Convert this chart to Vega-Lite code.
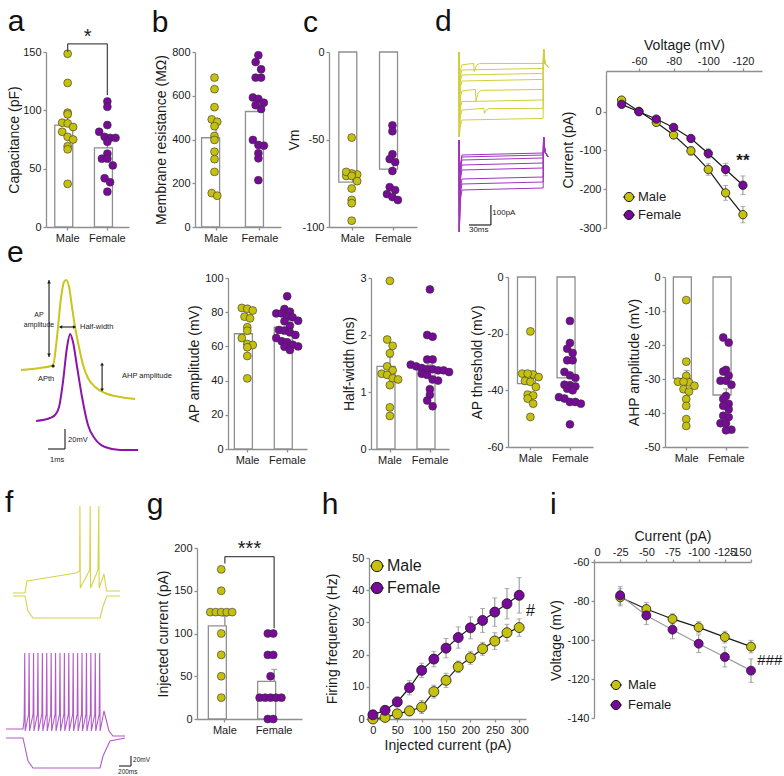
{
"$schema": "https://vega.github.io/schema/vega-lite/v6.json",
"background": "white",
"padding": {"left": 0, "top": 6, "right": 0, "bottom": 0},
"config": {
  "font": "Liberation Sans",
  "view": {"stroke": null},
  "axis": {"grid": false, "domainColor": "#8f8f8f", "domainWidth": 1.3, "tickColor": "#8f8f8f", "tickWidth": 1.3, "tickSize": 3, "labelFontSize": 11, "labelColor": "#1a1a1a", "labelPadding": 2, "labelOverlap": false, "labelExpr": "replace(datum.label, '−', '-')", "titleFontSize": 14, "titleFontWeight": "normal", "titleColor": "#1a1a1a", "titlePadding": 3},
  "title": {"fontSize": 30, "fontWeight": "normal", "anchor": "start", "color": "#111111"}
},
"datasets": {
  "summ": [
    {"panel": "cap", "sex": "Male", "m": 87.4, "sem": 7}, {"panel": "cap", "sex": "Female", "m": 67.8, "sem": 5},
    {"panel": "rin", "sex": "Male", "m": 408, "sem": 47}, {"panel": "rin", "sex": "Female", "m": 528, "sem": 42},
    {"panel": "vm", "sex": "Male", "m": -74.3, "sem": 3.5}, {"panel": "vm", "sex": "Female", "m": -66.9, "sem": 4},
    {"panel": "apamp", "sex": "Male", "m": 67.4, "sem": 3.8}, {"panel": "apamp", "sex": "Female", "m": 71.2, "sem": 2.2},
    {"panel": "hw", "sex": "Male", "m": 1.45, "sem": 0.16}, {"panel": "hw", "sex": "Female", "m": 1.39, "sem": 0.09},
    {"panel": "apth", "sex": "Male", "m": -37.6, "sem": 1.8}, {"panel": "apth", "sex": "Female", "m": -35.6, "sem": 1.6},
    {"panel": "ahp", "sex": "Male", "m": -29.8, "sem": 2.3}, {"panel": "ahp", "sex": "Female", "m": -34.7, "sem": 1.8},
    {"panel": "rheo", "sex": "Male", "m": 109, "sem": 11}, {"panel": "rheo", "sex": "Female", "m": 44, "sem": 14}
  ],
  "cap": [
    {"sex": "Male", "v": 148.5}, {"sex": "Male", "v": 123.5}, {"sex": "Male", "v": 98}, {"sex": "Male", "v": 96.6}, {"sex": "Male", "v": 89.4}, {"sex": "Male", "v": 88.8}, {"sex": "Male", "v": 85.7}, {"sex": "Male", "v": 81.6}, {"sex": "Male", "v": 77.3}, {"sex": "Male", "v": 75}, {"sex": "Male", "v": 69.2}, {"sex": "Male", "v": 66.6}, {"sex": "Male", "v": 37},
    {"sex": "Female", "v": 107.6}, {"sex": "Female", "v": 103}, {"sex": "Female", "v": 87.4}, {"sex": "Female", "v": 81.6}, {"sex": "Female", "v": 77.3}, {"sex": "Female", "v": 76.4}, {"sex": "Female", "v": 76.4}, {"sex": "Female", "v": 73}, {"sex": "Female", "v": 62.9}, {"sex": "Female", "v": 58.6}, {"sex": "Female", "v": 58.6}, {"sex": "Female", "v": 52.8}, {"sex": "Female", "v": 41.8}, {"sex": "Female", "v": 38.4}, {"sex": "Female", "v": 30.3}
  ],
  "rin": [
    {"sex": "Male", "v": 683}, {"sex": "Male", "v": 630}, {"sex": "Male", "v": 548}, {"sex": "Male", "v": 492}, {"sex": "Male", "v": 481}, {"sex": "Male", "v": 461}, {"sex": "Male", "v": 416}, {"sex": "Male", "v": 398}, {"sex": "Male", "v": 344}, {"sex": "Male", "v": 310}, {"sex": "Male", "v": 252}, {"sex": "Male", "v": 155}, {"sex": "Male", "v": 143},
    {"sex": "Female", "v": 785}, {"sex": "Female", "v": 754}, {"sex": "Female", "v": 721}, {"sex": "Female", "v": 683}, {"sex": "Female", "v": 683}, {"sex": "Female", "v": 592}, {"sex": "Female", "v": 586}, {"sex": "Female", "v": 568}, {"sex": "Female", "v": 557}, {"sex": "Female", "v": 539}, {"sex": "Female", "v": 398}, {"sex": "Female", "v": 375}, {"sex": "Female", "v": 372}, {"sex": "Female", "v": 337}, {"sex": "Female", "v": 314}, {"sex": "Female", "v": 214}
  ],
  "vm": [
    {"sex": "Male", "v": -48.9}, {"sex": "Male", "v": -70}, {"sex": "Male", "v": -70.8}, {"sex": "Male", "v": -69.4}, {"sex": "Male", "v": -68.5}, {"sex": "Male", "v": -70.8}, {"sex": "Male", "v": -73.8}, {"sex": "Male", "v": -78}, {"sex": "Male", "v": -84.5}, {"sex": "Male", "v": -86.4}, {"sex": "Male", "v": -96.4},
    {"sex": "Female", "v": -41.9}, {"sex": "Female", "v": -45.3}, {"sex": "Female", "v": -58.4}, {"sex": "Female", "v": -61.2}, {"sex": "Female", "v": -62.9}, {"sex": "Female", "v": -68}, {"sex": "Female", "v": -77.2}, {"sex": "Female", "v": -78.9}, {"sex": "Female", "v": -81.2}, {"sex": "Female", "v": -82.9}, {"sex": "Female", "v": -84.6}
  ],
  "apamp": [
    {"sex": "Male", "v": 82.5}, {"sex": "Male", "v": 82}, {"sex": "Male", "v": 81}, {"sex": "Male", "v": 77.4}, {"sex": "Male", "v": 76.4}, {"sex": "Male", "v": 71.2}, {"sex": "Male", "v": 69.2}, {"sex": "Male", "v": 64.9}, {"sex": "Male", "v": 61.4}, {"sex": "Male", "v": 60.8}, {"sex": "Male", "v": 59.5}, {"sex": "Male", "v": 54.4}, {"sex": "Male", "v": 41.3},
    {"sex": "Female", "v": 89.3}, {"sex": "Female", "v": 81.9}, {"sex": "Female", "v": 80.3}, {"sex": "Female", "v": 79.3}, {"sex": "Female", "v": 79.3}, {"sex": "Female", "v": 77.4}, {"sex": "Female", "v": 77}, {"sex": "Female", "v": 75}, {"sex": "Female", "v": 74.7}, {"sex": "Female", "v": 72.1}, {"sex": "Female", "v": 69.6}, {"sex": "Female", "v": 69.2}, {"sex": "Female", "v": 68.2}, {"sex": "Female", "v": 66.7}, {"sex": "Female", "v": 64.9}, {"sex": "Female", "v": 63}, {"sex": "Female", "v": 62.4}, {"sex": "Female", "v": 61}, {"sex": "Female", "v": 60}, {"sex": "Female", "v": 59.8}, {"sex": "Female", "v": 57.9}
  ],
  "hw": [
    {"sex": "Male", "v": 2.95}, {"sex": "Male", "v": 1.92}, {"sex": "Male", "v": 1.81}, {"sex": "Male", "v": 1.68}, {"sex": "Male", "v": 1.45}, {"sex": "Male", "v": 1.38}, {"sex": "Male", "v": 1.32}, {"sex": "Male", "v": 1.3}, {"sex": "Male", "v": 1.24}, {"sex": "Male", "v": 1.22}, {"sex": "Male", "v": 1.12}, {"sex": "Male", "v": 0.73}, {"sex": "Male", "v": 0.58},
    {"sex": "Female", "v": 2.8}, {"sex": "Female", "v": 2.0}, {"sex": "Female", "v": 1.97}, {"sex": "Female", "v": 1.57}, {"sex": "Female", "v": 1.57}, {"sex": "Female", "v": 1.48}, {"sex": "Female", "v": 1.45}, {"sex": "Female", "v": 1.42}, {"sex": "Female", "v": 1.4}, {"sex": "Female", "v": 1.4}, {"sex": "Female", "v": 1.38}, {"sex": "Female", "v": 1.38}, {"sex": "Female", "v": 1.35}, {"sex": "Female", "v": 1.32}, {"sex": "Female", "v": 1.3}, {"sex": "Female", "v": 1.22}, {"sex": "Female", "v": 1.2}, {"sex": "Female", "v": 1.05}, {"sex": "Female", "v": 0.95}, {"sex": "Female", "v": 0.85}, {"sex": "Female", "v": 0.75}
  ],
  "apth": [
    {"sex": "Male", "v": -19.2}, {"sex": "Male", "v": -34.4}, {"sex": "Male", "v": -34.1}, {"sex": "Male", "v": -34.1}, {"sex": "Male", "v": -35.3}, {"sex": "Male", "v": -36.7}, {"sex": "Male", "v": -37}, {"sex": "Male", "v": -38.8}, {"sex": "Male", "v": -41.5}, {"sex": "Male", "v": -41.8}, {"sex": "Male", "v": -42.9}, {"sex": "Male", "v": -44.7}, {"sex": "Male", "v": -49.4},
    {"sex": "Female", "v": -15.5}, {"sex": "Female", "v": -23.3}, {"sex": "Female", "v": -25.3}, {"sex": "Female", "v": -26.8}, {"sex": "Female", "v": -29.4}, {"sex": "Female", "v": -29.4}, {"sex": "Female", "v": -33.5}, {"sex": "Female", "v": -34.7}, {"sex": "Female", "v": -35.6}, {"sex": "Female", "v": -38.2}, {"sex": "Female", "v": -38}, {"sex": "Female", "v": -38.6}, {"sex": "Female", "v": -39.4}, {"sex": "Female", "v": -40}, {"sex": "Female", "v": -42.4}, {"sex": "Female", "v": -42.9}, {"sex": "Female", "v": -44.1}, {"sex": "Female", "v": -44.1}, {"sex": "Female", "v": -44.7}, {"sex": "Female", "v": -52}
  ],
  "ahp": [
    {"sex": "Male", "v": -6.8}, {"sex": "Male", "v": -24.9}, {"sex": "Male", "v": -29.1}, {"sex": "Male", "v": -30.8}, {"sex": "Male", "v": -31}, {"sex": "Male", "v": -30.8}, {"sex": "Male", "v": -32}, {"sex": "Male", "v": -33}, {"sex": "Male", "v": -33.7}, {"sex": "Male", "v": -35.9}, {"sex": "Male", "v": -37.9}, {"sex": "Male", "v": -41.8}, {"sex": "Male", "v": -43.8},
    {"sex": "Female", "v": -17.8}, {"sex": "Female", "v": -19.3}, {"sex": "Female", "v": -27.8}, {"sex": "Female", "v": -27.3}, {"sex": "Female", "v": -29}, {"sex": "Female", "v": -30.5}, {"sex": "Female", "v": -30.5}, {"sex": "Female", "v": -31.7}, {"sex": "Female", "v": -35}, {"sex": "Female", "v": -35.9}, {"sex": "Female", "v": -37.3}, {"sex": "Female", "v": -37.9}, {"sex": "Female", "v": -38.9}, {"sex": "Female", "v": -40.8}, {"sex": "Female", "v": -41.2}, {"sex": "Female", "v": -43}, {"sex": "Female", "v": -43}, {"sex": "Female", "v": -44.9}, {"sex": "Female", "v": -45.1}
  ],
  "rheo": [
    {"sex": "Male", "v": 175}, {"sex": "Male", "v": 150}, {"sex": "Male", "v": 125}, {"sex": "Male", "v": 125}, {"sex": "Male", "v": 125}, {"sex": "Male", "v": 125}, {"sex": "Male", "v": 125}, {"sex": "Male", "v": 100}, {"sex": "Male", "v": 75}, {"sex": "Male", "v": 50}, {"sex": "Male", "v": 25},
    {"sex": "Female", "v": 100}, {"sex": "Female", "v": 100}, {"sex": "Female", "v": 75}, {"sex": "Female", "v": 75}, {"sex": "Female", "v": 50}, {"sex": "Female", "v": 25}, {"sex": "Female", "v": 25}, {"sex": "Female", "v": 25}, {"sex": "Female", "v": 25}, {"sex": "Female", "v": 25}, {"sex": "Female", "v": 0}, {"sex": "Female", "v": 0}
  ],
  "iv": [
    {"sex": "Male", "mV": -50, "pA": 30, "sem": 5}, {"sex": "Male", "mV": -60, "pA": 1, "sem": 3}, {"sex": "Male", "mV": -70, "pA": -27.6, "sem": 5}, {"sex": "Male", "mV": -80, "pA": -60, "sem": 6}, {"sex": "Male", "mV": -90, "pA": -101, "sem": 10.8}, {"sex": "Male", "mV": -100, "pA": -149, "sem": 15}, {"sex": "Male", "mV": -110, "pA": -209.5, "sem": 19}, {"sex": "Male", "mV": -120, "pA": -265.5, "sem": 21},
    {"sex": "Female", "mV": -50, "pA": 19, "sem": 3}, {"sex": "Female", "mV": -60, "pA": 0, "sem": 3}, {"sex": "Female", "mV": -70, "pA": -19, "sem": 4}, {"sex": "Female", "mV": -80, "pA": -40.5, "sem": 5}, {"sex": "Female", "mV": -90, "pA": -69, "sem": 7}, {"sex": "Female", "mV": -100, "pA": -107.8, "sem": 12}, {"sex": "Female", "mV": -110, "pA": -149, "sem": 16}, {"sex": "Female", "mV": -120, "pA": -189.7, "sem": 24}
  ],
  "fi": [
    {"sex": "Male", "pA": 0, "hz": 0, "sem": 0.3}, {"sex": "Male", "pA": 25, "hz": 0.5, "sem": 0.5}, {"sex": "Male", "pA": 50, "hz": 1.6, "sem": 1.2}, {"sex": "Male", "pA": 75, "hz": 2.5, "sem": 1.5}, {"sex": "Male", "pA": 100, "hz": 3.7, "sem": 2}, {"sex": "Male", "pA": 125, "hz": 8.5, "sem": 2}, {"sex": "Male", "pA": 150, "hz": 12, "sem": 2.2}, {"sex": "Male", "pA": 175, "hz": 16.2, "sem": 1.8}, {"sex": "Male", "pA": 200, "hz": 19, "sem": 2}, {"sex": "Male", "pA": 225, "hz": 21.8, "sem": 2}, {"sex": "Male", "pA": 250, "hz": 24.2, "sem": 2.6}, {"sex": "Male", "pA": 275, "hz": 26.8, "sem": 2.6}, {"sex": "Male", "pA": 300, "hz": 28.4, "sem": 2.7},
    {"sex": "Female", "pA": 0, "hz": 1.3, "sem": 0.5}, {"sex": "Female", "pA": 25, "hz": 2.7, "sem": 1}, {"sex": "Female", "pA": 50, "hz": 5.3, "sem": 1.5}, {"sex": "Female", "pA": 75, "hz": 9.7, "sem": 2.2}, {"sex": "Female", "pA": 100, "hz": 15.1, "sem": 2.2}, {"sex": "Female", "pA": 125, "hz": 18.6, "sem": 2.4}, {"sex": "Female", "pA": 150, "hz": 22, "sem": 3}, {"sex": "Female", "pA": 175, "hz": 25.3, "sem": 3.3}, {"sex": "Female", "pA": 200, "hz": 28.3, "sem": 3.4}, {"sex": "Female", "pA": 225, "hz": 30.6, "sem": 3.7}, {"sex": "Female", "pA": 250, "hz": 33.2, "sem": 4.4}, {"sex": "Female", "pA": 275, "hz": 35.8, "sem": 4.7}, {"sex": "Female", "pA": 300, "hz": 38.4, "sem": 5.5}
  ],
  "vi": [
    {"sex": "Male", "pA": -25, "mV": -78.1, "sem": 4.4}, {"sex": "Male", "pA": -50, "mV": -84.1, "sem": 3.3}, {"sex": "Male", "pA": -75, "mV": -89.2, "sem": 2.6}, {"sex": "Male", "pA": -100, "mV": -93.5, "sem": 2.9}, {"sex": "Male", "pA": -125, "mV": -98.5, "sem": 3}, {"sex": "Male", "pA": -150, "mV": -103.4, "sem": 3.2},
    {"sex": "Female", "pA": -25, "mV": -77.1, "sem": 4.5}, {"sex": "Female", "pA": -50, "mV": -87.4, "sem": 4.7}, {"sex": "Female", "pA": -75, "mV": -94.7, "sem": 4.7}, {"sex": "Female", "pA": -100, "mV": -101.9, "sem": 4.5}, {"sex": "Female", "pA": -125, "mV": -108.7, "sem": 5.1}, {"sex": "Female", "pA": -150, "mV": -115.7, "sem": 6}
  ],
  "dtr": [
    {"sex": "Male", "tr": "m1", "t": 0, "I": 0}, {"sex": "Male", "tr": "m1", "t": 0.5, "I": -425}, {"sex": "Male", "tr": "m1", "t": 1.5, "I": -100}, {"sex": "Male", "tr": "m1", "t": 4, "I": -64}, {"sex": "Male", "tr": "m1", "t": 20, "I": -57}, {"sex": "Male", "tr": "m1", "t": 20.9, "I": -98}, {"sex": "Male", "tr": "m1", "t": 24, "I": -65}, {"sex": "Male", "tr": "m1", "t": 28, "I": -58}, {"sex": "Male", "tr": "m1", "t": 115, "I": -57}, {"sex": "Male", "tr": "m1", "t": 115.6, "I": 15}, {"sex": "Male", "tr": "m1", "t": 117.5, "I": -60}, {"sex": "Male", "tr": "m1", "t": 122, "I": -75},
    {"sex": "Male", "tr": "m2", "t": 0, "I": 0}, {"sex": "Male", "tr": "m2", "t": 0.5, "I": -425}, {"sex": "Male", "tr": "m2", "t": 1.5, "I": -127}, {"sex": "Male", "tr": "m2", "t": 4, "I": -90}, {"sex": "Male", "tr": "m2", "t": 115, "I": -82}, {"sex": "Male", "tr": "m2", "t": 115.6, "I": 15}, {"sex": "Male", "tr": "m2", "t": 117.5, "I": -60}, {"sex": "Male", "tr": "m2", "t": 122, "I": -75},
    {"sex": "Male", "tr": "m3", "t": 0, "I": 0}, {"sex": "Male", "tr": "m3", "t": 0.5, "I": -425}, {"sex": "Male", "tr": "m3", "t": 1.5, "I": -152}, {"sex": "Male", "tr": "m3", "t": 4, "I": -115}, {"sex": "Male", "tr": "m3", "t": 115, "I": -107}, {"sex": "Male", "tr": "m3", "t": 115.6, "I": 15}, {"sex": "Male", "tr": "m3", "t": 117.5, "I": -60}, {"sex": "Male", "tr": "m3", "t": 122, "I": -75},
    {"sex": "Male", "tr": "m4", "t": 0, "I": 0}, {"sex": "Male", "tr": "m4", "t": 0.5, "I": -425}, {"sex": "Male", "tr": "m4", "t": 1.5, "I": -182}, {"sex": "Male", "tr": "m4", "t": 4, "I": -145}, {"sex": "Male", "tr": "m4", "t": 115, "I": -137}, {"sex": "Male", "tr": "m4", "t": 115.6, "I": 15}, {"sex": "Male", "tr": "m4", "t": 117.5, "I": -60}, {"sex": "Male", "tr": "m4", "t": 122, "I": -75},
    {"sex": "Male", "tr": "m5", "t": 0, "I": 0}, {"sex": "Male", "tr": "m5", "t": 0.5, "I": -425}, {"sex": "Male", "tr": "m5", "t": 1.5, "I": -232}, {"sex": "Male", "tr": "m5", "t": 4, "I": -195}, {"sex": "Male", "tr": "m5", "t": 22.5, "I": -187}, {"sex": "Male", "tr": "m5", "t": 23.2, "I": -248}, {"sex": "Male", "tr": "m5", "t": 26, "I": -205}, {"sex": "Male", "tr": "m5", "t": 30, "I": -192}, {"sex": "Male", "tr": "m5", "t": 115, "I": -187}, {"sex": "Male", "tr": "m5", "t": 115.6, "I": 15}, {"sex": "Male", "tr": "m5", "t": 117.5, "I": -60}, {"sex": "Male", "tr": "m5", "t": 122, "I": -75},
    {"sex": "Male", "tr": "m6", "t": 0, "I": 0}, {"sex": "Male", "tr": "m6", "t": 0.5, "I": -425}, {"sex": "Male", "tr": "m6", "t": 1.5, "I": -285}, {"sex": "Male", "tr": "m6", "t": 4, "I": -248}, {"sex": "Male", "tr": "m6", "t": 115, "I": -240}, {"sex": "Male", "tr": "m6", "t": 115.6, "I": 15}, {"sex": "Male", "tr": "m6", "t": 117.5, "I": -60}, {"sex": "Male", "tr": "m6", "t": 122, "I": -75},
    {"sex": "Male", "tr": "m7", "t": 0, "I": 0}, {"sex": "Male", "tr": "m7", "t": 0.5, "I": -425}, {"sex": "Male", "tr": "m7", "t": 1.5, "I": -327}, {"sex": "Male", "tr": "m7", "t": 4, "I": -290}, {"sex": "Male", "tr": "m7", "t": 34, "I": -282}, {"sex": "Male", "tr": "m7", "t": 34.5, "I": -307}, {"sex": "Male", "tr": "m7", "t": 37, "I": -290}, {"sex": "Male", "tr": "m7", "t": 41, "I": -283}, {"sex": "Male", "tr": "m7", "t": 115, "I": -282}, {"sex": "Male", "tr": "m7", "t": 115.6, "I": 15}, {"sex": "Male", "tr": "m7", "t": 117.5, "I": -60}, {"sex": "Male", "tr": "m7", "t": 122, "I": -75},
    {"sex": "Male", "tr": "m8", "t": 0, "I": 0}, {"sex": "Male", "tr": "m8", "t": 0.5, "I": -425}, {"sex": "Male", "tr": "m8", "t": 1.5, "I": -377}, {"sex": "Male", "tr": "m8", "t": 4, "I": -340}, {"sex": "Male", "tr": "m8", "t": 115, "I": -332}, {"sex": "Male", "tr": "m8", "t": 115.6, "I": 15}, {"sex": "Male", "tr": "m8", "t": 117.5, "I": -60}, {"sex": "Male", "tr": "m8", "t": 122, "I": -75},
    {"sex": "Female", "tr": "f1", "t": 0, "I": -440}, {"sex": "Female", "tr": "f1", "t": 0.5, "I": -900}, {"sex": "Female", "tr": "f1", "t": 1.5, "I": -575}, {"sex": "Female", "tr": "f1", "t": 4, "I": -515}, {"sex": "Female", "tr": "f1", "t": 115, "I": -505}, {"sex": "Female", "tr": "f1", "t": 115.6, "I": -425}, {"sex": "Female", "tr": "f1", "t": 117.5, "I": -500}, {"sex": "Female", "tr": "f1", "t": 122, "I": -525},
    {"sex": "Female", "tr": "f2", "t": 0, "I": -440}, {"sex": "Female", "tr": "f2", "t": 0.5, "I": -900}, {"sex": "Female", "tr": "f2", "t": 1.5, "I": -585}, {"sex": "Female", "tr": "f2", "t": 4, "I": -525}, {"sex": "Female", "tr": "f2", "t": 115, "I": -515}, {"sex": "Female", "tr": "f2", "t": 115.6, "I": -425}, {"sex": "Female", "tr": "f2", "t": 117.5, "I": -500}, {"sex": "Female", "tr": "f2", "t": 122, "I": -525},
    {"sex": "Female", "tr": "f3", "t": 0, "I": -440}, {"sex": "Female", "tr": "f3", "t": 0.5, "I": -900}, {"sex": "Female", "tr": "f3", "t": 1.5, "I": -600}, {"sex": "Female", "tr": "f3", "t": 4, "I": -540}, {"sex": "Female", "tr": "f3", "t": 115, "I": -530}, {"sex": "Female", "tr": "f3", "t": 115.6, "I": -425}, {"sex": "Female", "tr": "f3", "t": 117.5, "I": -500}, {"sex": "Female", "tr": "f3", "t": 122, "I": -525},
    {"sex": "Female", "tr": "f4", "t": 0, "I": -440}, {"sex": "Female", "tr": "f4", "t": 0.5, "I": -900}, {"sex": "Female", "tr": "f4", "t": 1.5, "I": -625}, {"sex": "Female", "tr": "f4", "t": 4, "I": -565}, {"sex": "Female", "tr": "f4", "t": 115, "I": -555}, {"sex": "Female", "tr": "f4", "t": 115.6, "I": -425}, {"sex": "Female", "tr": "f4", "t": 117.5, "I": -500}, {"sex": "Female", "tr": "f4", "t": 122, "I": -525},
    {"sex": "Female", "tr": "f5", "t": 0, "I": -440}, {"sex": "Female", "tr": "f5", "t": 0.5, "I": -900}, {"sex": "Female", "tr": "f5", "t": 1.5, "I": -650}, {"sex": "Female", "tr": "f5", "t": 4, "I": -590}, {"sex": "Female", "tr": "f5", "t": 115, "I": -580}, {"sex": "Female", "tr": "f5", "t": 115.6, "I": -425}, {"sex": "Female", "tr": "f5", "t": 117.5, "I": -500}, {"sex": "Female", "tr": "f5", "t": 122, "I": -525},
    {"sex": "Female", "tr": "f6", "t": 0, "I": -440}, {"sex": "Female", "tr": "f6", "t": 0.5, "I": -900}, {"sex": "Female", "tr": "f6", "t": 1.5, "I": -695}, {"sex": "Female", "tr": "f6", "t": 4, "I": -635}, {"sex": "Female", "tr": "f6", "t": 115, "I": -625}, {"sex": "Female", "tr": "f6", "t": 115.6, "I": -425}, {"sex": "Female", "tr": "f6", "t": 117.5, "I": -500}, {"sex": "Female", "tr": "f6", "t": 122, "I": -525},
    {"sex": "Female", "tr": "f7", "t": 0, "I": -440}, {"sex": "Female", "tr": "f7", "t": 0.5, "I": -900}, {"sex": "Female", "tr": "f7", "t": 1.5, "I": -720}, {"sex": "Female", "tr": "f7", "t": 4, "I": -660}, {"sex": "Female", "tr": "f7", "t": 115, "I": -650}, {"sex": "Female", "tr": "f7", "t": 115.6, "I": -425}, {"sex": "Female", "tr": "f7", "t": 117.5, "I": -500}, {"sex": "Female", "tr": "f7", "t": 122, "I": -525},
    {"sex": "Female", "tr": "f8", "t": 0, "I": -440}, {"sex": "Female", "tr": "f8", "t": 0.5, "I": -900}, {"sex": "Female", "tr": "f8", "t": 1.5, "I": -750}, {"sex": "Female", "tr": "f8", "t": 4, "I": -690}, {"sex": "Female", "tr": "f8", "t": 115, "I": -680}, {"sex": "Female", "tr": "f8", "t": 115.6, "I": -425}, {"sex": "Female", "tr": "f8", "t": 117.5, "I": -500}, {"sex": "Female", "tr": "f8", "t": 122, "I": -525}
  ],
  "etr": [
    {"sex": "Male", "t": 0.35, "V": -60}, {"sex": "Male", "t": 1.47, "V": -58}, {"sex": "Male", "t": 2.12, "V": -56}, {"sex": "Male", "t": 2.24, "V": -55}, {"sex": "Male", "t": 2.47, "V": -27}, {"sex": "Male", "t": 2.71, "V": 13}, {"sex": "Male", "t": 2.88, "V": 28}, {"sex": "Male", "t": 3.0, "V": 30}, {"sex": "Male", "t": 3.18, "V": 23}, {"sex": "Male", "t": 3.35, "V": 3}, {"sex": "Male", "t": 3.53, "V": -17}, {"sex": "Male", "t": 3.76, "V": -37}, {"sex": "Male", "t": 4.0, "V": -55}, {"sex": "Male", "t": 4.29, "V": -68}, {"sex": "Male", "t": 4.71, "V": -77}, {"sex": "Male", "t": 5.29, "V": -83}, {"sex": "Male", "t": 6.18, "V": -87}, {"sex": "Male", "t": 7.06, "V": -89},
    {"sex": "Female", "t": 1.24, "V": -111}, {"sex": "Female", "t": 2.06, "V": -108}, {"sex": "Female", "t": 2.35, "V": -105}, {"sex": "Female", "t": 2.59, "V": -97}, {"sex": "Female", "t": 2.82, "V": -72}, {"sex": "Female", "t": 3.06, "V": -37}, {"sex": "Female", "t": 3.24, "V": -24}, {"sex": "Female", "t": 3.41, "V": -32}, {"sex": "Female", "t": 3.65, "V": -57}, {"sex": "Female", "t": 3.94, "V": -87}, {"sex": "Female", "t": 4.29, "V": -115}, {"sex": "Female", "t": 4.71, "V": -129}, {"sex": "Female", "t": 5.29, "V": -137}, {"sex": "Female", "t": 6.18, "V": -140}, {"sex": "Female", "t": 7.24, "V": -140}
  ],
  "ftr": [
    {"sex": "Male", "tr": "m1", "t": 167, "V": -70}, {"sex": "Male", "tr": "m1", "t": 367, "V": -70}, {"sex": "Male", "tr": "m1", "t": 400, "V": -46}, {"sex": "Male", "tr": "m1", "t": 500, "V": -44}, {"sex": "Male", "tr": "m1", "t": 1217, "V": -30}, {"sex": "Male", "tr": "m1", "t": 1278, "V": -26}, {"sex": "Male", "tr": "m1", "t": 1282, "V": 104}, {"sex": "Male", "tr": "m1", "t": 1288, "V": -60}, {"sex": "Male", "tr": "m1", "t": 1445, "V": -24}, {"sex": "Male", "tr": "m1", "t": 1453, "V": 104}, {"sex": "Male", "tr": "m1", "t": 1460, "V": -60}, {"sex": "Male", "tr": "m1", "t": 1583, "V": -24}, {"sex": "Male", "tr": "m1", "t": 1597, "V": 104}, {"sex": "Male", "tr": "m1", "t": 1603, "V": -60}, {"sex": "Male", "tr": "m1", "t": 1683, "V": -32}, {"sex": "Male", "tr": "m1", "t": 1725, "V": -66}, {"sex": "Male", "tr": "m1", "t": 1950, "V": -66},
    {"sex": "Male", "tr": "m2", "t": 167, "V": -76}, {"sex": "Male", "tr": "m2", "t": 367, "V": -76}, {"sex": "Male", "tr": "m2", "t": 417, "V": -106}, {"sex": "Male", "tr": "m2", "t": 500, "V": -120}, {"sex": "Male", "tr": "m2", "t": 1617, "V": -120}, {"sex": "Male", "tr": "m2", "t": 1667, "V": -96}, {"sex": "Male", "tr": "m2", "t": 1733, "V": -76}, {"sex": "Male", "tr": "m2", "t": 1950, "V": -76},
    {"sex": "Female", "tr": "f1", "t": 50, "V": -342}, {"sex": "Female", "tr": "f1", "t": 333, "V": -342}, {"sex": "Female", "tr": "f1", "t": 350, "V": -326},
    {"sex": "Female", "tr": "f1", "t": 354, "V": -312}, {"sex": "Female", "tr": "f1", "t": 362, "V": -190}, {"sex": "Female", "tr": "f1", "t": 370, "V": -346},
    {"sex": "Female", "tr": "f1", "t": 427, "V": -312}, {"sex": "Female", "tr": "f1", "t": 435, "V": -190}, {"sex": "Female", "tr": "f1", "t": 443, "V": -346},
    {"sex": "Female", "tr": "f1", "t": 501, "V": -312}, {"sex": "Female", "tr": "f1", "t": 509, "V": -190}, {"sex": "Female", "tr": "f1", "t": 517, "V": -346},
    {"sex": "Female", "tr": "f1", "t": 574, "V": -312}, {"sex": "Female", "tr": "f1", "t": 582, "V": -190}, {"sex": "Female", "tr": "f1", "t": 590, "V": -346},
    {"sex": "Female", "tr": "f1", "t": 648, "V": -312}, {"sex": "Female", "tr": "f1", "t": 656, "V": -190}, {"sex": "Female", "tr": "f1", "t": 664, "V": -346},
    {"sex": "Female", "tr": "f1", "t": 721, "V": -312}, {"sex": "Female", "tr": "f1", "t": 729, "V": -190}, {"sex": "Female", "tr": "f1", "t": 737, "V": -346},
    {"sex": "Female", "tr": "f1", "t": 795, "V": -312}, {"sex": "Female", "tr": "f1", "t": 803, "V": -190}, {"sex": "Female", "tr": "f1", "t": 811, "V": -346},
    {"sex": "Female", "tr": "f1", "t": 868, "V": -312}, {"sex": "Female", "tr": "f1", "t": 876, "V": -190}, {"sex": "Female", "tr": "f1", "t": 884, "V": -346},
    {"sex": "Female", "tr": "f1", "t": 942, "V": -312}, {"sex": "Female", "tr": "f1", "t": 950, "V": -190}, {"sex": "Female", "tr": "f1", "t": 958, "V": -346},
    {"sex": "Female", "tr": "f1", "t": 1015, "V": -312}, {"sex": "Female", "tr": "f1", "t": 1023, "V": -190}, {"sex": "Female", "tr": "f1", "t": 1031, "V": -346},
    {"sex": "Female", "tr": "f1", "t": 1089, "V": -312}, {"sex": "Female", "tr": "f1", "t": 1097, "V": -190}, {"sex": "Female", "tr": "f1", "t": 1105, "V": -346},
    {"sex": "Female", "tr": "f1", "t": 1162, "V": -312}, {"sex": "Female", "tr": "f1", "t": 1170, "V": -190}, {"sex": "Female", "tr": "f1", "t": 1178, "V": -346},
    {"sex": "Female", "tr": "f1", "t": 1236, "V": -312}, {"sex": "Female", "tr": "f1", "t": 1244, "V": -190}, {"sex": "Female", "tr": "f1", "t": 1252, "V": -346},
    {"sex": "Female", "tr": "f1", "t": 1309, "V": -312}, {"sex": "Female", "tr": "f1", "t": 1317, "V": -190}, {"sex": "Female", "tr": "f1", "t": 1325, "V": -346},
    {"sex": "Female", "tr": "f1", "t": 1383, "V": -312}, {"sex": "Female", "tr": "f1", "t": 1391, "V": -190}, {"sex": "Female", "tr": "f1", "t": 1399, "V": -346},
    {"sex": "Female", "tr": "f1", "t": 1456, "V": -312}, {"sex": "Female", "tr": "f1", "t": 1464, "V": -190}, {"sex": "Female", "tr": "f1", "t": 1472, "V": -346},
    {"sex": "Female", "tr": "f1", "t": 1530, "V": -312}, {"sex": "Female", "tr": "f1", "t": 1538, "V": -190}, {"sex": "Female", "tr": "f1", "t": 1546, "V": -346},
    {"sex": "Female", "tr": "f1", "t": 1603, "V": -312}, {"sex": "Female", "tr": "f1", "t": 1611, "V": -190}, {"sex": "Female", "tr": "f1", "t": 1619, "V": -346},
    {"sex": "Female", "tr": "f1", "t": 1683, "V": -306}, {"sex": "Female", "tr": "f1", "t": 1767, "V": -346}, {"sex": "Female", "tr": "f1", "t": 1833, "V": -356}, {"sex": "Female", "tr": "f1", "t": 2033, "V": -356},
    {"sex": "Female", "tr": "f2", "t": 50, "V": -360}, {"sex": "Female", "tr": "f2", "t": 333, "V": -360}, {"sex": "Female", "tr": "f2", "t": 417, "V": -406}, {"sex": "Female", "tr": "f2", "t": 500, "V": -420}, {"sex": "Female", "tr": "f2", "t": 1617, "V": -420}, {"sex": "Female", "tr": "f2", "t": 1667, "V": -396}, {"sex": "Female", "tr": "f2", "t": 1783, "V": -366}, {"sex": "Female", "tr": "f2", "t": 2033, "V": -360}
  ]
},
"vconcat": [
  {"hconcat": [
    {"width": 1, "height": 1, "data": {"values": [{"k": 0}]}, "mark": {"type": "point", "opacity": 0}, "encoding": {}},
    {"title": {"text": "a", "offset": -10}, "width": 83, "height": 177, "layer": [
      {"data": {"name": "summ"}, "transform": [{"filter": "datum.panel === 'cap'"}], "mark": {"type": "bar", "fill": "white", "stroke": "#8f8f8f", "strokeWidth": 1.3},
       "encoding": {"x": {"field": "sex", "type": "nominal", "scale": {"domain": ["Male", "Female"], "paddingInner": 0.35, "paddingOuter": 0.22}, "axis": {"title": null, "labelAngle": 0}},
                    "y": {"field": "m", "type": "quantitative", "scale": {"domain": [0, 150], "nice": false, "range": [177, 2]}, "axis": {"values": [0, 50, 100, 150], "tickCount": 20, "title": "Capacitance (pF)", "titlePadding": 1}}}},
      {"data": {"name": "summ"}, "transform": [{"filter": "datum.panel === 'cap'"}, {"calculate": "datum.m + datum.sem", "as": "hi"}], "mark": {"type": "rule", "color": "#8f8f8f", "strokeWidth": 1.3},
       "encoding": {"x": {"field": "sex", "type": "nominal"}, "y": {"field": "m", "type": "quantitative"}, "y2": {"field": "hi"}}},
      {"data": {"name": "summ"}, "transform": [{"filter": "datum.panel === 'cap'"}, {"calculate": "datum.m + datum.sem", "as": "hi"}], "mark": {"type": "tick", "color": "#8f8f8f", "thickness": 1.3, "size": 6},
       "encoding": {"x": {"field": "sex", "type": "nominal"}, "y": {"field": "hi", "type": "quantitative"}}},
      {"data": {"name": "cap"}, "transform": [{"calculate": "floor(datum.v/7.5)", "as": "b"}, {"window": [{"op": "row_number", "as": "k"}], "groupby": ["sex", "b"], "sort": [{"field": "v", "order": "descending"}]}, {"joinaggregate": [{"op": "count", "as": "n"}], "groupby": ["sex", "b"]}, {"calculate": "datum.k - (datum.n + 1) / 2", "as": "off"}],
       "mark": {"type": "circle", "size": 62, "opacity": 1, "stroke": "#333333", "strokeWidth": 0.6},
       "encoding": {"x": {"field": "sex", "type": "nominal"}, "xOffset": {"field": "off", "type": "quantitative", "scale": {"domain": [-1.36, 1.36]}}, "y": {"field": "v", "type": "quantitative"}, "fill": {"field": "sex", "type": "nominal", "scale": {"domain": ["Male", "Female"], "range": ["#c6c10e", "#770a98"]}, "legend": null}}},
      {"data": {"values": [{"a": "Male", "b": "Female", "y": 157}]}, "mark": {"type": "rule", "color": "#4d4d4d", "strokeWidth": 1.3},
       "encoding": {"x": {"field": "a", "type": "nominal"}, "x2": {"field": "b"}, "y": {"field": "y", "type": "quantitative"}}},
      {"data": {"values": [{"s": "Male", "y1": 157, "y2": 150}, {"s": "Female", "y1": 157, "y2": 113}]}, "mark": {"type": "rule", "color": "#4d4d4d", "strokeWidth": 1.3},
       "encoding": {"x": {"field": "s", "type": "nominal"}, "y": {"field": "y1", "type": "quantitative"}, "y2": {"field": "y2"}}},
      {"data": {"values": [{"s": "Male", "y": 163, "label": "*"}]}, "mark": {"type": "text", "fontSize": 20, "baseline": "middle", "color": "#1a1a1a"},
       "encoding": {"x": {"field": "s", "type": "nominal", "bandPosition": 1.27}, "y": {"field": "y", "type": "quantitative"}, "text": {"field": "label"}}}
    ]},
    {"width": 22, "height": 1, "data": {"values": [{"k": 0}]}, "mark": {"type": "point", "opacity": 0}, "encoding": {}},
    {"title": {"text": "b", "offset": 8.5, "dx": -3}, "width": 86, "height": 177, "layer": [
      {"data": {"name": "summ"}, "transform": [{"filter": "datum.panel === 'rin'"}], "mark": {"type": "bar", "fill": "white", "stroke": "#8f8f8f", "strokeWidth": 1.3},
       "encoding": {"x": {"field": "sex", "type": "nominal", "scale": {"domain": ["Male", "Female"], "paddingInner": 0.34, "paddingOuter": 0.15}, "axis": {"title": null, "labelAngle": 0}},
                    "y": {"field": "m", "type": "quantitative", "scale": {"domain": [0, 800], "nice": false, "range": [177, 2]}, "axis": {"values": [0, 200, 400, 600, 800], "tickCount": 20, "title": "Membrane resistance (MΩ)"}}}},
      {"data": {"name": "summ"}, "transform": [{"filter": "datum.panel === 'rin'"}, {"calculate": "datum.m + datum.sem", "as": "hi"}], "mark": {"type": "rule", "color": "#8f8f8f", "strokeWidth": 1.3},
       "encoding": {"x": {"field": "sex", "type": "nominal"}, "y": {"field": "m", "type": "quantitative"}, "y2": {"field": "hi"}}},
      {"data": {"name": "summ"}, "transform": [{"filter": "datum.panel === 'rin'"}, {"calculate": "datum.m + datum.sem", "as": "hi"}], "mark": {"type": "tick", "color": "#8f8f8f", "thickness": 1.3, "size": 6},
       "encoding": {"x": {"field": "sex", "type": "nominal"}, "y": {"field": "hi", "type": "quantitative"}}},
      {"data": {"name": "rin"}, "transform": [{"calculate": "floor(datum.v/40)", "as": "b"}, {"window": [{"op": "row_number", "as": "k"}], "groupby": ["sex", "b"], "sort": [{"field": "v", "order": "descending"}]}, {"joinaggregate": [{"op": "count", "as": "n"}], "groupby": ["sex", "b"]}, {"calculate": "datum.k - (datum.n + 1) / 2", "as": "off"}],
       "mark": {"type": "circle", "size": 62, "opacity": 1, "stroke": "#333333", "strokeWidth": 0.6},
       "encoding": {"x": {"field": "sex", "type": "nominal"}, "xOffset": {"field": "off", "type": "quantitative", "scale": {"domain": [-1.53, 1.53]}}, "y": {"field": "v", "type": "quantitative"}, "fill": {"field": "sex", "type": "nominal", "scale": {"domain": ["Male", "Female"], "range": ["#c6c10e", "#770a98"]}, "legend": null}}}
    ]},
    {"width": 0.1, "height": 1, "data": {"values": [{"k": 0}]}, "mark": {"type": "point", "opacity": 0}, "encoding": {}},
    {"title": {"text": "c", "offset": 8.5, "dx": 15}, "width": 88, "height": 177, "layer": [
      {"data": {"name": "summ"}, "transform": [{"filter": "datum.panel === 'vm'"}], "mark": {"type": "bar", "fill": "white", "stroke": "#8f8f8f", "strokeWidth": 1.3},
       "encoding": {"x": {"field": "sex", "type": "nominal", "scale": {"domain": ["Male", "Female"], "paddingInner": 0.32, "paddingOuter": 0.24}, "axis": {"title": null, "labelAngle": 0}},
                    "y": {"field": "m", "type": "quantitative", "scale": {"domain": [-100, 0], "nice": false, "range": [177, 2]}, "axis": {"values": [-100, -50, 0], "tickCount": 20, "title": "Vm", "titlePadding": 0}}}},
      {"data": {"name": "summ"}, "transform": [{"filter": "datum.panel === 'vm'"}, {"calculate": "datum.m + datum.sem", "as": "hi"}], "mark": {"type": "rule", "color": "#8f8f8f", "strokeWidth": 1.3},
       "encoding": {"x": {"field": "sex", "type": "nominal"}, "y": {"field": "m", "type": "quantitative"}, "y2": {"field": "hi"}}},
      {"data": {"name": "summ"}, "transform": [{"filter": "datum.panel === 'vm'"}, {"calculate": "datum.m + datum.sem", "as": "hi"}], "mark": {"type": "tick", "color": "#8f8f8f", "thickness": 1.3, "size": 6},
       "encoding": {"x": {"field": "sex", "type": "nominal"}, "y": {"field": "hi", "type": "quantitative"}}},
      {"data": {"name": "vm"}, "transform": [{"calculate": "floor(datum.v/5)", "as": "b"}, {"window": [{"op": "row_number", "as": "k"}], "groupby": ["sex", "b"], "sort": [{"field": "v", "order": "descending"}]}, {"joinaggregate": [{"op": "count", "as": "n"}], "groupby": ["sex", "b"]}, {"calculate": "datum.k - (datum.n + 1) / 2", "as": "off"}],
       "mark": {"type": "circle", "size": 62, "opacity": 1, "stroke": "#333333", "strokeWidth": 0.6},
       "encoding": {"x": {"field": "sex", "type": "nominal"}, "xOffset": {"field": "off", "type": "quantitative", "scale": {"domain": [-1.46, 1.46]}}, "y": {"field": "v", "type": "quantitative"}, "fill": {"field": "sex", "type": "nominal", "scale": {"domain": ["Male", "Female"], "range": ["#c6c10e", "#770a98"]}, "legend": null}}}
    ]},
    {"width": 18, "height": 1, "data": {"values": [{"k": 0}]}, "mark": {"type": "point", "opacity": 0}, "encoding": {}},
    {"title": {"text": "d", "offset": 10, "dx": -22}, "width": 90, "height": 182, "layer": [
      {"data": {"name": "dtr"}, "mark": {"type": "line", "strokeWidth": 1},
       "encoding": {"x": {"field": "t", "type": "quantitative", "scale": {"domain": [0, 123], "nice": false, "zero": false}, "axis": null},
                    "y": {"field": "I", "type": "quantitative", "scale": {"domain": [-900, 0], "nice": false, "zero": false, "range": [182, 2]}, "axis": null},
                    "stroke": {"field": "sex", "type": "nominal", "scale": {"domain": ["Male", "Female"], "range": ["#d2cf3d", "#a035bc"]}, "legend": null},
                    "detail": {"field": "tr", "type": "nominal"}}},
      {"data": {"values": [{"x1": 43.6, "y1": -765, "x2": 43.6, "y2": -865}, {"x1": 13.6, "y1": -865, "x2": 43.6, "y2": -865}]}, "mark": {"type": "rule", "color": "#222222", "strokeWidth": 1.2},
       "encoding": {"x": {"field": "x1", "type": "quantitative"}, "y": {"field": "y1", "type": "quantitative"}, "x2": {"field": "x2"}, "y2": {"field": "y2"}}},
      {"data": {"values": [{"x": 45.5, "y": -807, "label": "100pA"}]}, "mark": {"type": "text", "fontSize": 8, "align": "left", "baseline": "middle", "color": "#222222"},
       "encoding": {"x": {"field": "x", "type": "quantitative"}, "y": {"field": "y", "type": "quantitative"}, "text": {"field": "label"}}},
      {"data": {"values": [{"x": 13.6, "y": -870, "label": "30ms"}]}, "mark": {"type": "text", "fontSize": 8, "align": "left", "baseline": "top", "color": "#222222"},
       "encoding": {"x": {"field": "x", "type": "quantitative"}, "y": {"field": "y", "type": "quantitative"}, "text": {"field": "label"}}}
    ]},
    {"width": 10, "height": 1, "data": {"values": [{"k": 0}]}, "mark": {"type": "point", "opacity": 0}, "encoding": {}},
    {"width": 156, "height": 178, "layer": [
      {"data": {"name": "iv"}, "mark": {"type": "line", "color": "#1a1a1a", "strokeWidth": 1.2},
       "encoding": {"x": {"field": "mV", "type": "quantitative", "scale": {"domain": [-41, -131], "nice": false, "zero": false}, "axis": {"orient": "top", "offset": -21, "values": [-60, -80, -100, -120], "tickCount": 20, "title": "Voltage (mV)"}},
                    "y": {"field": "pA", "type": "quantitative", "scale": {"domain": [-300, 105], "nice": false, "range": [178, 21]}, "axis": {"values": [-300, -200, -100, 0], "tickCount": 20, "title": "Current (pA)"}},
                    "detail": {"field": "sex", "type": "nominal"}}},
      {"data": {"name": "iv"}, "mark": {"type": "errorbar", "ticks": true, "size": 5, "thickness": 1, "color": "#8f8f8f"},
       "encoding": {"x": {"field": "mV", "type": "quantitative", "title": "Voltage (mV)"}, "y": {"field": "pA", "type": "quantitative", "title": "Current (pA)"}, "yError": {"field": "sem"}}},
      {"data": {"name": "iv"}, "mark": {"type": "circle", "size": 70, "opacity": 1, "stroke": "#1a1a1a", "strokeWidth": 0.8},
       "encoding": {"x": {"field": "mV", "type": "quantitative"}, "y": {"field": "pA", "type": "quantitative"},
                    "fill": {"field": "sex", "type": "nominal", "scale": {"domain": ["Male", "Female"], "range": ["#c6c10e", "#770a98"]},
                             "legend": {"orient": "none", "legendX": 16, "legendY": 140, "title": null, "symbolType": "M-1,0L-0.75,0M0.75,0L1,0M0.75,0A0.75,0.75,0,1,1,-0.75,0A0.75,0.75,0,1,1,0.75,0Z", "symbolSize": 150, "symbolStrokeColor": "#1a1a1a", "symbolStrokeWidth": 1, "labelFontSize": 13, "labelColor": "#1a1a1a", "labelOffset": 2, "rowPadding": 4, "padding": 0}}}},
      {"data": {"values": [{"x": -120, "y": -128, "label": "**"}]}, "mark": {"type": "text", "fontSize": 17, "fontWeight": "bold", "baseline": "middle", "color": "#1a1a1a"},
       "encoding": {"x": {"field": "x", "type": "quantitative"}, "y": {"field": "y", "type": "quantitative"}, "text": {"field": "label"}}}
    ]}
  ], "spacing": 0, "resolve": {"scale": {"fill": "independent", "stroke": "independent"}, "legend": {"fill": "independent", "stroke": "independent"}}},
  {"vconcat": [
    {"hconcat": [
      {"width": 1, "height": 1, "data": {"values": [{"k": 0}]}, "mark": {"type": "point", "opacity": 0}, "encoding": {}},
      {"title": {"text": "e", "offset": 8, "dx": -8}, "width": 165, "height": 185, "layer": [
        {"data": {"name": "etr"}, "mark": {"type": "line", "strokeWidth": 2, "interpolate": "monotone"},
         "encoding": {"x": {"field": "t", "type": "quantitative", "scale": {"domain": [0, 9.7], "nice": false, "zero": false}, "axis": null},
                      "y": {"field": "V", "type": "quantitative", "scale": {"domain": [-152, 33], "nice": false, "zero": false}, "axis": null},
                      "stroke": {"field": "sex", "type": "nominal", "scale": {"domain": ["Male", "Female"], "range": ["#c9c51c", "#8b15aa"]}, "legend": null}}},
        {"data": {"values": [{"x1": 2.0, "y1": 30, "x2": 2.0, "y2": -47}, {"x1": 5.12, "y1": -55, "x2": 5.12, "y2": -79}, {"x1": 2.65, "y1": -17, "x2": 3.53, "y2": -17}, {"x1": 2.94, "y1": -119, "x2": 2.94, "y2": -139}, {"x1": 1.94, "y1": -139, "x2": 2.94, "y2": -139}]}, "mark": {"type": "rule", "color": "#1a1a1a", "strokeWidth": 1.1},
         "encoding": {"x": {"field": "x1", "type": "quantitative"}, "y": {"field": "y1", "type": "quantitative"}, "x2": {"field": "x2"}, "y2": {"field": "y2"}}},
        {"data": {"values": [{"x": 2.0, "y": 28}, {"x": 5.12, "y": -54}]}, "mark": {"type": "point", "shape": "triangle-up", "size": 14, "filled": true, "color": "#1a1a1a", "opacity": 1},
         "encoding": {"x": {"field": "x", "type": "quantitative"}, "y": {"field": "y", "type": "quantitative"}}},
        {"data": {"values": [{"x": 2.0, "y": -45}, {"x": 5.12, "y": -80}]}, "mark": {"type": "point", "shape": "triangle-down", "size": 14, "filled": true, "color": "#1a1a1a", "opacity": 1},
         "encoding": {"x": {"field": "x", "type": "quantitative"}, "y": {"field": "y", "type": "quantitative"}}},
        {"data": {"values": [{"x": 2.68, "y": -17}]}, "mark": {"type": "point", "shape": "triangle-left", "size": 14, "filled": true, "color": "#1a1a1a", "opacity": 1},
         "encoding": {"x": {"field": "x", "type": "quantitative"}, "y": {"field": "y", "type": "quantitative"}}},
        {"data": {"values": [{"x": 3.5, "y": -17}]}, "mark": {"type": "point", "shape": "triangle-right", "size": 14, "filled": true, "color": "#1a1a1a", "opacity": 1},
         "encoding": {"x": {"field": "x", "type": "quantitative"}, "y": {"field": "y", "type": "quantitative"}}},
        {"data": {"values": [{"x": 2.24, "y": -56}]}, "mark": {"type": "circle", "size": 10, "color": "#1a1a1a", "opacity": 1},
         "encoding": {"x": {"field": "x", "type": "quantitative"}, "y": {"field": "y", "type": "quantitative"}}},
        {"data": {"values": [{"x": 1.41, "y": -5, "label": "AP"}, {"x": 1.41, "y": -15, "label": "amplitude"}]}, "mark": {"type": "text", "fontSize": 7, "align": "center", "baseline": "middle", "color": "#1a1a1a"},
         "encoding": {"x": {"field": "x", "type": "quantitative"}, "y": {"field": "y", "type": "quantitative"}, "text": {"field": "label"}}},
        {"data": {"values": [{"x": 3.82, "y": -17, "label": "Half-width"}, {"x": 1.35, "y": -69, "label": "APth"}, {"x": 6.29, "y": -66, "label": "AHP amplitude"}, {"x": 3.12, "y": -130, "label": "20mV"}, {"x": 2.06, "y": -150, "label": "1ms"}]}, "mark": {"type": "text", "fontSize": 7.5, "align": "left", "baseline": "middle", "color": "#1a1a1a"},
         "encoding": {"x": {"field": "x", "type": "quantitative"}, "y": {"field": "y", "type": "quantitative"}, "text": {"field": "label"}}}
      ]},
      {"width": 4.6, "height": 1, "data": {"values": [{"k": 0}]}, "mark": {"type": "point", "opacity": 0}, "encoding": {}},
      {"width": 79, "height": 172, "layer": [
        {"data": {"name": "summ"}, "transform": [{"filter": "datum.panel === 'apamp'"}], "mark": {"type": "bar", "fill": "white", "stroke": "#8f8f8f", "strokeWidth": 1.3},
         "encoding": {"x": {"field": "sex", "type": "nominal", "scale": {"domain": ["Male", "Female"], "paddingInner": 0.34, "paddingOuter": 0.16}, "axis": {"title": null, "labelAngle": 0}},
                      "y": {"field": "m", "type": "quantitative", "scale": {"domain": [0, 100], "nice": false, "range": [172, 1]}, "axis": {"values": [0, 20, 40, 60, 80, 100], "tickCount": 20, "title": "AP amplitude (mV)"}}}},
        {"data": {"name": "summ"}, "transform": [{"filter": "datum.panel === 'apamp'"}, {"calculate": "datum.m + datum.sem", "as": "hi"}], "mark": {"type": "rule", "color": "#8f8f8f", "strokeWidth": 1.3},
         "encoding": {"x": {"field": "sex", "type": "nominal"}, "y": {"field": "m", "type": "quantitative"}, "y2": {"field": "hi"}}},
        {"data": {"name": "summ"}, "transform": [{"filter": "datum.panel === 'apamp'"}, {"calculate": "datum.m + datum.sem", "as": "hi"}], "mark": {"type": "tick", "color": "#8f8f8f", "thickness": 1.3, "size": 6},
         "encoding": {"x": {"field": "sex", "type": "nominal"}, "y": {"field": "hi", "type": "quantitative"}}},
        {"data": {"name": "apamp"}, "transform": [{"calculate": "floor(datum.v/5)", "as": "b"}, {"window": [{"op": "row_number", "as": "k"}], "groupby": ["sex", "b"], "sort": [{"field": "v", "order": "descending"}]}, {"joinaggregate": [{"op": "count", "as": "n"}], "groupby": ["sex", "b"]}, {"calculate": "datum.k - (datum.n + 1) / 2", "as": "off"}],
         "mark": {"type": "circle", "size": 62, "opacity": 1, "stroke": "#333333", "strokeWidth": 0.6},
         "encoding": {"x": {"field": "sex", "type": "nominal"}, "xOffset": {"field": "off", "type": "quantitative", "scale": {"domain": [-1.38, 1.38]}}, "y": {"field": "v", "type": "quantitative"}, "fill": {"field": "sex", "type": "nominal", "scale": {"domain": ["Male", "Female"], "range": ["#c6c10e", "#770a98"]}, "legend": null}}}
      ]},
      {"width": 34.9, "height": 1, "data": {"values": [{"k": 0}]}, "mark": {"type": "point", "opacity": 0}, "encoding": {}},
      {"width": 78, "height": 172, "layer": [
        {"data": {"name": "summ"}, "transform": [{"filter": "datum.panel === 'hw'"}], "mark": {"type": "bar", "fill": "white", "stroke": "#8f8f8f", "strokeWidth": 1.3},
         "encoding": {"x": {"field": "sex", "type": "nominal", "scale": {"domain": ["Male", "Female"], "paddingInner": 0.35, "paddingOuter": 0.15}, "axis": {"title": null, "labelAngle": 0}},
                      "y": {"field": "m", "type": "quantitative", "scale": {"domain": [0, 3], "nice": false, "range": [172, 1]}, "axis": {"values": [0, 1, 2, 3], "tickCount": 20, "format": "d", "title": "Half-width (ms)"}}}},
        {"data": {"name": "summ"}, "transform": [{"filter": "datum.panel === 'hw'"}, {"calculate": "datum.m + datum.sem", "as": "hi"}], "mark": {"type": "rule", "color": "#8f8f8f", "strokeWidth": 1.3},
         "encoding": {"x": {"field": "sex", "type": "nominal"}, "y": {"field": "m", "type": "quantitative"}, "y2": {"field": "hi"}}},
        {"data": {"name": "summ"}, "transform": [{"filter": "datum.panel === 'hw'"}, {"calculate": "datum.m + datum.sem", "as": "hi"}], "mark": {"type": "tick", "color": "#8f8f8f", "thickness": 1.3, "size": 6},
         "encoding": {"x": {"field": "sex", "type": "nominal"}, "y": {"field": "hi", "type": "quantitative"}}},
        {"data": {"name": "hw"}, "transform": [{"calculate": "floor(datum.v/0.15)", "as": "b"}, {"window": [{"op": "row_number", "as": "k"}], "groupby": ["sex", "b"], "sort": [{"field": "v", "order": "descending"}]}, {"joinaggregate": [{"op": "count", "as": "n"}], "groupby": ["sex", "b"]}, {"calculate": "datum.k - (datum.n + 1) / 2", "as": "off"}],
         "mark": {"type": "circle", "size": 62, "opacity": 1, "stroke": "#333333", "strokeWidth": 0.6},
         "encoding": {"x": {"field": "sex", "type": "nominal"}, "xOffset": {"field": "off", "type": "quantitative", "scale": {"domain": [-1.37, 1.37]}}, "y": {"field": "v", "type": "quantitative"}, "fill": {"field": "sex", "type": "nominal", "scale": {"domain": ["Male", "Female"], "range": ["#c6c10e", "#770a98"]}, "legend": null}}}
      ]},
      {"width": 15, "height": 1, "data": {"values": [{"k": 0}]}, "mark": {"type": "point", "opacity": 0}, "encoding": {}},
      {"width": 85, "height": 170, "layer": [
        {"data": {"name": "summ"}, "transform": [{"filter": "datum.panel === 'apth'"}], "mark": {"type": "bar", "fill": "white", "stroke": "#8f8f8f", "strokeWidth": 1.3},
         "encoding": {"x": {"field": "sex", "type": "nominal", "scale": {"domain": ["Male", "Female"], "paddingInner": 0.33, "paddingOuter": 0.24}, "axis": {"title": null, "labelAngle": 0}},
                      "y": {"field": "m", "type": "quantitative", "scale": {"domain": [-60, 0], "nice": false}, "axis": {"values": [-60, -40, -20, 0], "tickCount": 20, "title": "AP threshold (mV)"}}}},
        {"data": {"name": "summ"}, "transform": [{"filter": "datum.panel === 'apth'"}, {"calculate": "datum.m + datum.sem", "as": "hi"}], "mark": {"type": "rule", "color": "#8f8f8f", "strokeWidth": 1.3},
         "encoding": {"x": {"field": "sex", "type": "nominal"}, "y": {"field": "m", "type": "quantitative"}, "y2": {"field": "hi"}}},
        {"data": {"name": "summ"}, "transform": [{"filter": "datum.panel === 'apth'"}, {"calculate": "datum.m + datum.sem", "as": "hi"}], "mark": {"type": "tick", "color": "#8f8f8f", "thickness": 1.3, "size": 6},
         "encoding": {"x": {"field": "sex", "type": "nominal"}, "y": {"field": "hi", "type": "quantitative"}}},
        {"data": {"name": "apth"}, "transform": [{"calculate": "floor(datum.v/3)", "as": "b"}, {"window": [{"op": "row_number", "as": "k"}], "groupby": ["sex", "b"], "sort": [{"field": "v", "order": "descending"}]}, {"joinaggregate": [{"op": "count", "as": "n"}], "groupby": ["sex", "b"]}, {"calculate": "datum.k - (datum.n + 1) / 2", "as": "off"}],
         "mark": {"type": "circle", "size": 62, "opacity": 1, "stroke": "#333333", "strokeWidth": 0.6},
         "encoding": {"x": {"field": "sex", "type": "nominal"}, "xOffset": {"field": "off", "type": "quantitative", "scale": {"domain": [-1.39, 1.39]}}, "y": {"field": "v", "type": "quantitative"}, "fill": {"field": "sex", "type": "nominal", "scale": {"domain": ["Male", "Female"], "range": ["#c6c10e", "#770a98"]}, "legend": null}}}
      ]},
      {"width": 34, "height": 1, "data": {"values": [{"k": 0}]}, "mark": {"type": "point", "opacity": 0}, "encoding": {}},
      {"width": 83, "height": 170, "layer": [
        {"data": {"name": "summ"}, "transform": [{"filter": "datum.panel === 'ahp'"}], "mark": {"type": "bar", "fill": "white", "stroke": "#8f8f8f", "strokeWidth": 1.3},
         "encoding": {"x": {"field": "sex", "type": "nominal", "scale": {"domain": ["Male", "Female"], "paddingInner": 0.33, "paddingOuter": 0.21}, "axis": {"title": null, "labelAngle": 0}},
                      "y": {"field": "m", "type": "quantitative", "scale": {"domain": [-50, 0], "nice": false}, "axis": {"values": [-50, -40, -30, -20, -10, 0], "tickCount": 20, "title": "AHP amplitude (mV)"}}}},
        {"data": {"name": "summ"}, "transform": [{"filter": "datum.panel === 'ahp'"}, {"calculate": "datum.m + datum.sem", "as": "hi"}], "mark": {"type": "rule", "color": "#8f8f8f", "strokeWidth": 1.3},
         "encoding": {"x": {"field": "sex", "type": "nominal"}, "y": {"field": "m", "type": "quantitative"}, "y2": {"field": "hi"}}},
        {"data": {"name": "summ"}, "transform": [{"filter": "datum.panel === 'ahp'"}, {"calculate": "datum.m + datum.sem", "as": "hi"}], "mark": {"type": "tick", "color": "#8f8f8f", "thickness": 1.3, "size": 6},
         "encoding": {"x": {"field": "sex", "type": "nominal"}, "y": {"field": "hi", "type": "quantitative"}}},
        {"data": {"name": "ahp"}, "transform": [{"calculate": "floor(datum.v/2.5)", "as": "b"}, {"window": [{"op": "row_number", "as": "k"}], "groupby": ["sex", "b"], "sort": [{"field": "v", "order": "descending"}]}, {"joinaggregate": [{"op": "count", "as": "n"}], "groupby": ["sex", "b"]}, {"calculate": "datum.k - (datum.n + 1) / 2", "as": "off"}],
         "mark": {"type": "circle", "size": 62, "opacity": 1, "stroke": "#333333", "strokeWidth": 0.6},
         "encoding": {"x": {"field": "sex", "type": "nominal"}, "xOffset": {"field": "off", "type": "quantitative", "scale": {"domain": [-1.4, 1.4]}}, "y": {"field": "v", "type": "quantitative"}, "fill": {"field": "sex", "type": "nominal", "scale": {"domain": ["Male", "Female"], "range": ["#c6c10e", "#770a98"]}, "legend": null}}}
      ]}
    ], "spacing": 0, "resolve": {"scale": {"fill": "independent", "stroke": "independent"}, "legend": {"fill": "independent", "stroke": "independent"}}},
    {"hconcat": [
      {"title": {"text": "f", "offset": -14, "dx": 2}, "width": 135, "height": 271, "layer": [
        {"data": {"name": "ftr"}, "mark": {"type": "line", "strokeWidth": 1.1},
         "encoding": {"x": {"field": "t", "type": "quantitative", "scale": {"domain": [0, 2250], "nice": false, "zero": false}, "axis": null},
                      "y": {"field": "V", "type": "quantitative", "scale": {"domain": [-438, 104], "nice": false, "zero": false}, "axis": null},
                      "stroke": {"field": "sex", "type": "nominal", "scale": {"domain": ["Male", "Female"], "range": ["#d6d34a", "#b25ac8"]}, "legend": null},
                      "detail": {"field": "tr", "type": "nominal"}}},
        {"data": {"values": [{"x1": 2133, "y1": -396, "x2": 2133, "y2": -416}, {"x1": 1933, "y1": -416, "x2": 2133, "y2": -416}]}, "mark": {"type": "rule", "color": "#222222", "strokeWidth": 1.1},
         "encoding": {"x": {"field": "x1", "type": "quantitative"}, "y": {"field": "y1", "type": "quantitative"}, "x2": {"field": "x2"}, "y2": {"field": "y2"}}},
        {"data": {"values": [{"x": 2167, "y": -404, "label": "20mV"}, {"x": 1917, "y": -428, "label": "200ms"}]}, "mark": {"type": "text", "fontSize": 6.5, "align": "left", "baseline": "middle", "color": "#222222"},
         "encoding": {"x": {"field": "x", "type": "quantitative"}, "y": {"field": "y", "type": "quantitative"}, "text": {"field": "label"}}}
      ]},
      {"width": 3.6, "height": 1, "data": {"values": [{"k": 0}]}, "mark": {"type": "point", "opacity": 0}, "encoding": {}},
      {"title": {"text": "g", "offset": -14, "dx": -10}, "width": 105, "height": 213, "layer": [
        {"data": {"name": "summ"}, "transform": [{"filter": "datum.panel === 'rheo'"}], "mark": {"type": "bar", "fill": "white", "stroke": "#8f8f8f", "strokeWidth": 1.3},
         "encoding": {"x": {"field": "sex", "type": "nominal", "scale": {"domain": ["Male", "Female"], "paddingInner": 0.33, "paddingOuter": 0.23}, "axis": {"title": null, "labelAngle": 0}},
                      "y": {"field": "m", "type": "quantitative", "scale": {"domain": [0, 200], "nice": false, "range": [213, 42]}, "axis": {"values": [0, 50, 100, 150, 200], "tickCount": 20, "title": "Injected current (pA)"}}}},
        {"data": {"name": "summ"}, "transform": [{"filter": "datum.panel === 'rheo'"}, {"calculate": "datum.m + datum.sem", "as": "hi"}], "mark": {"type": "rule", "color": "#8f8f8f", "strokeWidth": 1.3},
         "encoding": {"x": {"field": "sex", "type": "nominal"}, "y": {"field": "m", "type": "quantitative"}, "y2": {"field": "hi"}}},
        {"data": {"name": "summ"}, "transform": [{"filter": "datum.panel === 'rheo'"}, {"calculate": "datum.m + datum.sem", "as": "hi"}], "mark": {"type": "tick", "color": "#8f8f8f", "thickness": 1.3, "size": 6},
         "encoding": {"x": {"field": "sex", "type": "nominal"}, "y": {"field": "hi", "type": "quantitative"}}},
        {"data": {"name": "rheo"}, "transform": [{"calculate": "floor(datum.v/10)", "as": "b"}, {"window": [{"op": "row_number", "as": "k"}], "groupby": ["sex", "b"], "sort": [{"field": "v", "order": "descending"}]}, {"joinaggregate": [{"op": "count", "as": "n"}], "groupby": ["sex", "b"]}, {"calculate": "datum.k - (datum.n + 1) / 2", "as": "off"}],
         "mark": {"type": "circle", "size": 62, "opacity": 1, "stroke": "#333333", "strokeWidth": 0.6},
         "encoding": {"x": {"field": "sex", "type": "nominal"}, "xOffset": {"field": "off", "type": "quantitative", "scale": {"domain": [-2.36, 2.36]}}, "y": {"field": "v", "type": "quantitative"}, "fill": {"field": "sex", "type": "nominal", "scale": {"domain": ["Male", "Female"], "range": ["#c6c10e", "#770a98"]}, "legend": null}}},
        {"data": {"values": [{"a": "Male", "b": "Female", "y": 190}]}, "mark": {"type": "rule", "color": "#4d4d4d", "strokeWidth": 1.3},
         "encoding": {"x": {"field": "a", "type": "nominal"}, "x2": {"field": "b"}, "y": {"field": "y", "type": "quantitative"}}},
        {"data": {"values": [{"s": "Male", "y1": 190, "y2": 182}, {"s": "Female", "y1": 190, "y2": 106}]}, "mark": {"type": "rule", "color": "#4d4d4d", "strokeWidth": 1.3},
         "encoding": {"x": {"field": "s", "type": "nominal"}, "y": {"field": "y1", "type": "quantitative"}, "y2": {"field": "y2"}}},
        {"data": {"values": [{"s": "Male", "y": 199, "label": "***"}]}, "mark": {"type": "text", "fontSize": 20, "baseline": "middle", "color": "#1a1a1a"},
         "encoding": {"x": {"field": "s", "type": "nominal", "bandPosition": 1.246}, "y": {"field": "y", "type": "quantitative"}, "text": {"field": "label"}}}
      ]},
      {"width": 27.8, "height": 1, "data": {"values": [{"k": 0}]}, "mark": {"type": "point", "opacity": 0}, "encoding": {}},
      {"title": {"text": "h", "offset": -14, "dx": -4}, "width": 157, "height": 213, "layer": [
        {"data": {"name": "fi"}, "mark": {"type": "line", "color": "#1a1a1a", "strokeWidth": 1.2},
         "encoding": {"x": {"field": "pA", "type": "quantitative", "scale": {"domain": [-8, 314], "nice": false, "zero": false}, "axis": {"values": [0, 50, 100, 150, 200, 250, 300], "tickCount": 20, "title": "Injected current (pA)"}},
                      "y": {"field": "hz", "type": "quantitative", "scale": {"domain": [0, 50], "nice": false, "range": [213, 52]}, "axis": {"values": [0, 10, 20, 30, 40, 50], "tickCount": 20, "title": "Firing frequency (Hz)", "titlePadding": 12}},
                      "detail": {"field": "sex", "type": "nominal"}}},
        {"data": {"name": "fi"}, "mark": {"type": "errorbar", "ticks": true, "size": 5, "thickness": 1, "color": "#8f8f8f"},
         "encoding": {"x": {"field": "pA", "type": "quantitative", "title": "Injected current (pA)"}, "y": {"field": "hz", "type": "quantitative", "title": "Firing frequency (Hz)"}, "yError": {"field": "sem"}}},
        {"data": {"name": "fi"}, "mark": {"type": "circle", "size": 100, "opacity": 1, "stroke": "#1a1a1a", "strokeWidth": 0.8},
         "encoding": {"x": {"field": "pA", "type": "quantitative"}, "y": {"field": "hz", "type": "quantitative"},
                      "fill": {"field": "sex", "type": "nominal", "scale": {"domain": ["Male", "Female"], "range": ["#c6c10e", "#770a98"]},
                               "legend": {"orient": "none", "legendX": 0, "legendY": 52, "title": null, "symbolType": "M-1,0L-0.8,0M0.8,0L1,0M0.8,0A0.8,0.8,0,1,1,-0.8,0A0.8,0.8,0,1,1,0.8,0Z", "symbolSize": 200, "symbolStrokeColor": "#1a1a1a", "symbolStrokeWidth": 1, "labelFontSize": 16, "labelColor": "#1a1a1a", "labelOffset": 2, "rowPadding": 6, "padding": 0}}}},
        {"data": {"values": [{"x": 314, "y": 33.5, "label": "#"}]}, "mark": {"type": "text", "fontSize": 16, "baseline": "middle", "align": "left", "color": "#1a1a1a"},
         "encoding": {"x": {"field": "x", "type": "quantitative"}, "y": {"field": "y", "type": "quantitative"}, "text": {"field": "label"}}}
      ]},
      {"width": 23, "height": 1, "data": {"values": [{"k": 0}]}, "mark": {"type": "point", "opacity": 0}, "encoding": {}},
      {"title": {"text": "i", "offset": -14}, "width": 157, "height": 212, "layer": [
        {"data": {"name": "vi"}, "transform": [{"filter": "datum.sex === 'Male'"}], "mark": {"type": "line", "strokeWidth": 1.2, "color": "#1a1a1a"},
         "encoding": {"x": {"field": "pA", "type": "quantitative", "scale": {"domain": [0, -150], "nice": false, "zero": false}, "axis": {"orient": "top", "offset": -56, "values": [0, -25, -50, -75, -100, -125, -150], "tickCount": 20, "title": "Current (pA)"}},
                      "y": {"field": "mV", "type": "quantitative", "scale": {"domain": [-140, -60], "nice": false, "zero": false, "range": [212, 56]}, "axis": {"values": [-140, -120, -100, -80, -60], "tickCount": 20, "title": "Voltage (mV)"}}}},
        {"data": {"name": "vi"}, "transform": [{"filter": "datum.sex === 'Female'"}], "mark": {"type": "line", "strokeWidth": 1.2, "color": "#9a9a9a"},
         "encoding": {"x": {"field": "pA", "type": "quantitative", "title": "Current (pA)"}, "y": {"field": "mV", "type": "quantitative", "title": "Voltage (mV)"}}},
        {"data": {"name": "vi"}, "mark": {"type": "errorbar", "ticks": true, "size": 5, "thickness": 1, "color": "#8f8f8f"},
         "encoding": {"x": {"field": "pA", "type": "quantitative", "title": "Current (pA)"}, "y": {"field": "mV", "type": "quantitative", "title": "Voltage (mV)"}, "yError": {"field": "sem"}}},
        {"data": {"name": "vi"}, "mark": {"type": "circle", "size": 80, "opacity": 1, "stroke": "#1a1a1a", "strokeWidth": 0.8},
         "encoding": {"x": {"field": "pA", "type": "quantitative"}, "y": {"field": "mV", "type": "quantitative"},
                      "fill": {"field": "sex", "type": "nominal", "scale": {"domain": ["Male", "Female"], "range": ["#c6c10e", "#770a98"]},
                               "legend": {"orient": "none", "legendX": 15, "legendY": 172, "title": null, "symbolType": "M-1,0L-0.75,0M0.75,0L1,0M0.75,0A0.75,0.75,0,1,1,-0.75,0A0.75,0.75,0,1,1,0.75,0Z", "symbolSize": 150, "symbolStrokeColor": "#1a1a1a", "symbolStrokeWidth": 1, "labelFontSize": 13, "labelColor": "#1a1a1a", "labelOffset": 5, "rowPadding": 6, "padding": 0}}}},
        {"data": {"values": [{"x": -168, "y": -110, "label": "###"}]}, "mark": {"type": "text", "fontSize": 15, "baseline": "middle", "color": "#1a1a1a"},
         "encoding": {"x": {"field": "x", "type": "quantitative"}, "y": {"field": "y", "type": "quantitative"}, "text": {"field": "label"}}}
      ]}
    ], "spacing": -9, "resolve": {"scale": {"fill": "independent", "stroke": "independent"}, "legend": {"fill": "independent", "stroke": "independent"}}}
  ], "spacing": 22, "resolve": {"scale": {"fill": "independent", "stroke": "independent"}, "legend": {"fill": "independent", "stroke": "independent"}}}
],
"spacing": -6,
"resolve": {"scale": {"fill": "independent", "stroke": "independent"}, "legend": {"fill": "independent", "stroke": "independent"}}
}
